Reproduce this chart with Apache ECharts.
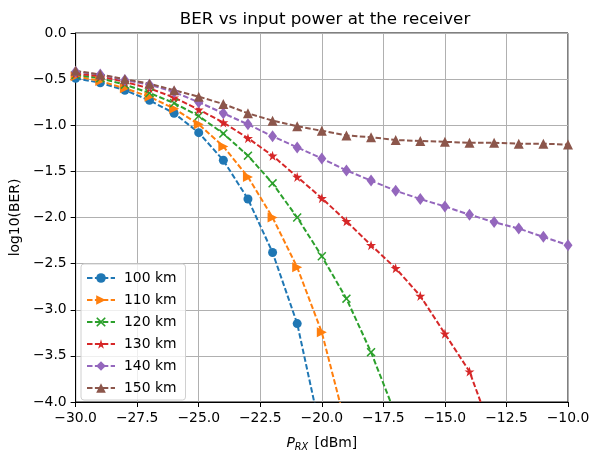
<!DOCTYPE html>
<html><head><meta charset="utf-8">
<script src="https://cdn.jsdelivr.net/npm/echarts@6/dist/echarts.min.js"></script>
<style>html,body{margin:0;padding:0;background:#fff}#c{width:600px;height:458px}</style>
</head><body><div id="c"></div>
<script>
// x values (input power, dBm) — one per marker
const xs = [-30,-29,-28,-27,-26,-25,-24,-23,-22,-21,-20,-19,-18,-17,-16,-15,-14,-13,-12,-11,-10];
const seriesNames = ['100 km','110 km','120 km','130 km','140 km','150 km'];
// log10(BER) values (values below -4 are clipped off the plot)
const ber100 = [-0.49,-0.54,-0.62,-0.73,-0.87,-1.08,-1.38,-1.80,-2.38,-3.15,-4.38];
const ber110 = [-0.47,-0.52,-0.60,-0.69,-0.82,-0.99,-1.23,-1.56,-2.00,-2.54,-3.245,-4.28];
const ber120 = [-0.455,-0.49,-0.56,-0.65,-0.76,-0.90,-1.09,-1.33,-1.63,-2.00,-2.42,-2.88,-3.46,-4.14];
const ber130 = [-0.44,-0.47,-0.53,-0.60,-0.70,-0.83,-0.97,-1.14,-1.33,-1.56,-1.79,-2.04,-2.30,-2.55,-2.85,-3.26,-3.67,-4.40];
const ber140 = [-0.42,-0.45,-0.51,-0.56,-0.64,-0.75,-0.87,-0.99,-1.12,-1.24,-1.36,-1.49,-1.60,-1.71,-1.80,-1.88,-1.97,-2.05,-2.12,-2.21,-2.30];
const ber150 = [-0.41,-0.45,-0.50,-0.55,-0.62,-0.69,-0.77,-0.87,-0.95,-1.01,-1.06,-1.11,-1.13,-1.16,-1.17,-1.18,-1.19,-1.19,-1.20,-1.20,-1.21];
const allBer = [ber100, ber110, ber120, ber130, ber140, ber150];

const colors = ['#1f77b4','#ff7f0e','#2ca02c','#d62728','#9467bd','#8c564b'];
const STAR = 'path://M50,0 L61,35 L98,35 L68,57 L79,91 L50,70 L21,91 L32,57 L2,35 L39,35 Z';
const XMARK = 'path://M0,1.2 L1.2,0 L5,3.8 L8.8,0 L10,1.2 L6.2,5 L10,8.8 L8.8,10 L5,6.2 L1.2,10 L0,8.8 L3.8,5 Z';
const symbols = [
  {symbol:'circle', symbolSize:9, symbolRotate:0},
  {symbol:'triangle', symbolSize:10, symbolRotate:-90},
  {symbol:XMARK, symbolSize:9, symbolRotate:0},
  {symbol:STAR, symbolSize:10, symbolRotate:0},
  {symbol:'diamond', symbolSize:[9,12], symbolRotate:0},
  {symbol:'triangle', symbolSize:10, symbolRotate:0}
];
const FONT = 'DejaVu Sans';
const fmt = v => v.toFixed(1).replace('-', '\u2212');

const series = allBer.map((arr, i) => ({
  name: seriesNames[i],
  type: 'line',
  data: arr.map((y, k) => [xs[k], y]),
  symbol: symbols[i].symbol,
  symbolSize: symbols[i].symbolSize,
  symbolRotate: symbols[i].symbolRotate,
  showAllSymbol: true,
  clip: true,
  color: colors[i],
  lineStyle: {color: colors[i], width: 2, type: [5.5, 2.4]},
  itemStyle: {color: colors[i], borderWidth: 0},
  emphasis: {disabled: true},
  animation: false
}));

const chart = echarts.init(document.getElementById('c'), null, {renderer: 'canvas'});
chart.setOption({
  animation: false,
  backgroundColor: '#fff',
  textStyle: {fontFamily: FONT},
  title: {
    text: 'BER vs input power at the receiver',
    left: 320, top: 6, textAlign: 'center',
    textStyle: {fontFamily: FONT, fontSize: 16.7, fontWeight: 'normal', color: '#000'}
  },
  grid: {left: 72, right: 32, top: 33, bottom: 56, show: true, borderColor: '#000', borderWidth: 1, backgroundColor: 'transparent'},
  xAxis: {
    type: 'value', min: -30, max: -10, interval: 2.5,
    name: '{i|P}{s|RX} {n|[dBm]}', nameLocation: 'middle', nameGap: 32,
    nameTextStyle: {fontFamily: FONT, fontSize: 13.9, color: '#000',
      rich: {i: {fontFamily: FONT, fontSize: 13.9, fontStyle: 'italic', color: '#000'},
             s: {fontFamily: FONT, fontSize: 9.7, fontStyle: 'italic', color: '#000', padding: [8, 0, 0, 0]},
             n: {fontFamily: FONT, fontSize: 13.9, color: '#000', padding: [0, 0, 0, 2]}}},
    axisLine: {show: true, onZero: false, lineStyle: {color: '#000', width: 1}},
    axisTick: {show: true, length: 5, lineStyle: {color: '#000'}},
    axisLabel: {formatter: fmt, fontFamily: FONT, fontSize: 13.9, color: '#000', margin: 9},
    splitLine: {show: true, lineStyle: {color: '#b0b0b0', width: 1}}
  },
  yAxis: {
    type: 'value', min: -4, max: 0, interval: 0.5,
    name: 'log10(BER)', nameLocation: 'middle', nameGap: 46, nameRotate: 90,
    nameTextStyle: {fontFamily: FONT, fontSize: 13.9, color: '#000'},
    axisLine: {show: true, onZero: false, lineStyle: {color: '#000', width: 1}},
    axisTick: {show: true, length: 5, lineStyle: {color: '#000'}},
    axisLabel: {formatter: fmt, fontFamily: FONT, fontSize: 13.9, color: '#000', margin: 9},
    splitLine: {show: true, lineStyle: {color: '#b0b0b0', width: 1}}
  },
  legend: {
    orient: 'vertical', left: 81, bottom: 58,
    data: seriesNames,
    itemWidth: 28, itemHeight: 12, itemGap: 8,
    padding: [7, 9, 5, 5],
    borderColor: '#d0d0d0', borderWidth: 1, borderRadius: 3,
    backgroundColor: 'rgba(255,255,255,0.8)',
    textStyle: {fontFamily: FONT, fontSize: 13.9, color: '#000', padding: [0, 0, 0, 4]}
  },
  series: series
});
</script>
</body></html>
